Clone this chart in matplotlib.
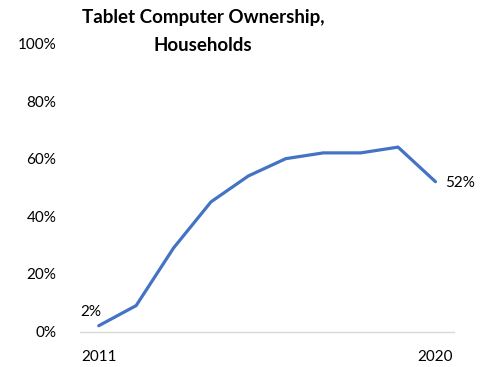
import matplotlib
matplotlib.use("Agg")
import matplotlib.pyplot as plt

years = [2011, 2012, 2013, 2014, 2015, 2016, 2017, 2018, 2019, 2020]
ownership = [2, 9, 29, 45, 54, 60, 62, 62, 64, 52]
y_ticks = [0, 20, 40, 60, 80, 100]
x_tick_labels = ["2011", "2020"]
title = "Tablet Computer Ownership,\nHouseholds"

plt.rcParams['font.family'] = ['Lato', 'DejaVu Sans']

fig = plt.figure(figsize=(4.91, 3.67), dpi=100)
ax = fig.add_axes([0.163, 0.0967, 0.762, 0.785])

ax.plot(years, ownership, color="#4472C4", linewidth=2.3, solid_capstyle='round', solid_joinstyle='round')

ax.set_xlim(2010.5, 2020.5)
ax.set_ylim(0, 100)
ax.set_yticks(y_ticks)
ax.set_yticklabels([f"{v}%" for v in y_ticks])
ax.set_xticks([years[0], years[-1]])
ax.set_xticklabels(x_tick_labels)

for s in ["top", "right", "left"]:
    ax.spines[s].set_visible(False)
ax.spines["bottom"].set_color("#d9d9d9")
ax.spines["bottom"].set_linewidth(1.0)
ax.tick_params(axis='both', length=0, labelsize=11, colors="#000000")
ax.tick_params(axis='y', pad=17)
ax.tick_params(axis='x', pad=13)

ax.annotate(f"{ownership[0]}%", (years[0], ownership[0]), xytext=(-13, 5),
            textcoords="offset points", fontsize=11, ha="left", va="bottom")
ax.annotate(f"{ownership[-1]}%", (years[-1], ownership[-1]), xytext=(7, -1),
            textcoords="offset points", fontsize=11, ha="left", va="center")

fig.text(0.414, 0.975, title, ha="center", va="top", fontsize=13.5,
         fontweight="bold", linespacing=1.75)

fig.savefig("out.png", dpi=100)
